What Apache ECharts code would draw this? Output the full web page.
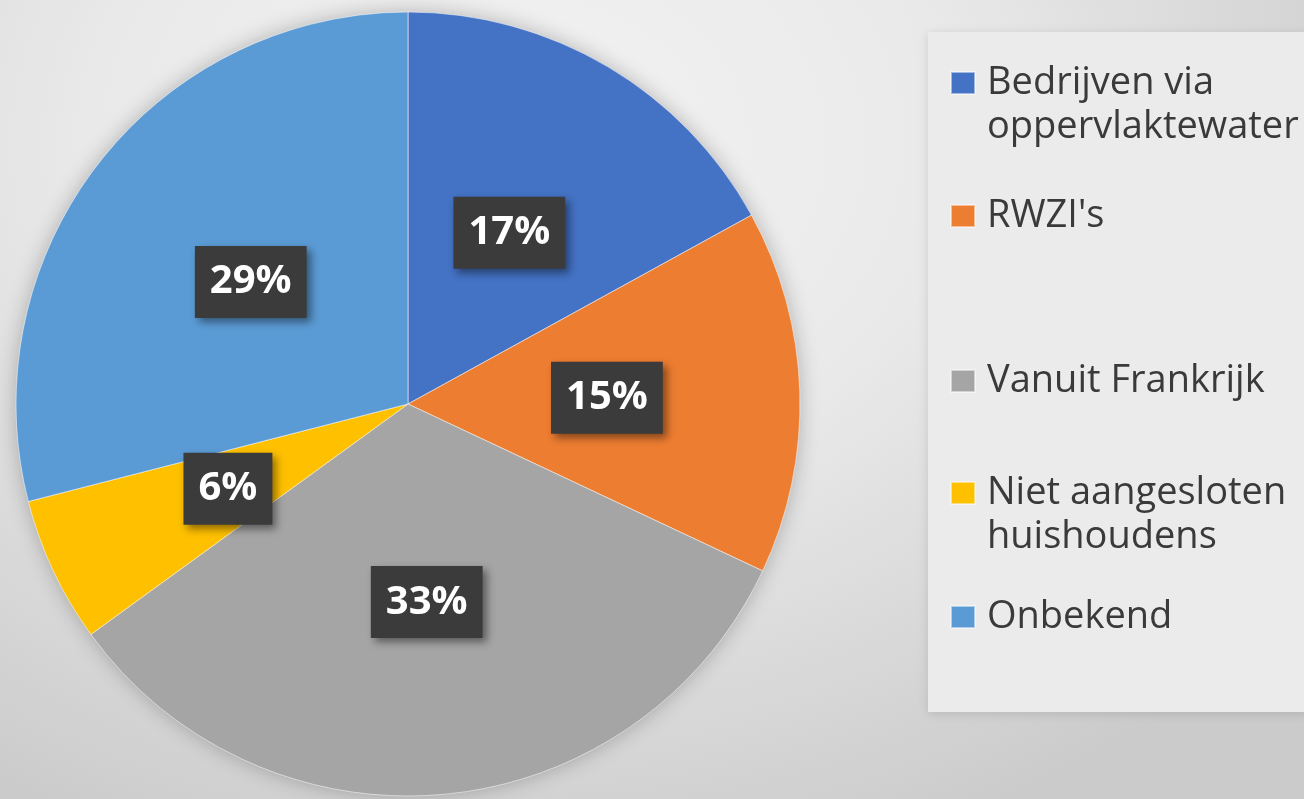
<!DOCTYPE html>
<html>
<head>
<meta charset="utf-8">
<script src="https://cdn.jsdelivr.net/npm/echarts@6/dist/echarts.min.js"></script>
<style>
    html, body { margin: 0; padding: 0; }
    #main {
        width: 1304px;
        height: 799px;
        background: radial-gradient(ellipse 75% 95% at 40% 18%, #f3f3f3 0%, #e9e9e9 45%, #d6d6d6 80%, #cbcbcb 100%);
    }
</style>
</head>
<body>
<div id="main"></div>
<script>
// data
var names = ['Bedrijven via oppervlaktewater', "RWZI's", 'Vanuit Frankrijk', 'Niet aangesloten huishoudens', 'Onbekend'];
var values = [17, 15, 33, 6, 29];
var colors = ['#4472C4', '#ED7D31', '#A5A5A5', '#FFC000', '#5B9BD5'];
// legend text as shown (line breaks)
var legendText = ['Bedrijven via\noppervlaktewater', "RWZI's", 'Vanuit Frankrijk', 'Niet aangesloten\nhuishoudens', 'Onbekend'];
var legendTop = [17, 194, 359, 427, 595];

var myChart = echarts.init(document.getElementById('main'));

var pieData = names.map(function (n, i) {
    return {value: values[i], name: n};
});

// 每个图例单独放置
var legends = names.map(function (n, i) {
    var twoLines = legendText[i].indexOf('\n') >= 0;
    return {
        data: [n],
        orient: 'vertical',
        left: 950,
        top: legendTop[i],
        padding: 0,
        itemWidth: 24,
        itemHeight: 22,
        icon: 'rect',
        selectedMode: false,
        // 两行的图例: 空行放在上面, 让第一行和色块对齐
        formatter: function () { return twoLines ? '\n' + legendText[i] : legendText[i]; },
        textStyle: {
            fontFamily: 'Open Sans',
            fontSize: 38,
            lineHeight: 44,
            color: '#3a3a3a',
            padding: [0, 0, 0, 7]
        }
    };
});

var option = {
    color: colors,
    animation: false,
    legend: legends,
    graphic: [
        {
            type: 'rect',
            z: -10,
            shape: {x: 928, y: 32, width: 380, height: 680},
            style: {
                fill: '#ebebeb',
                shadowBlur: 10,
                shadowColor: 'rgba(0,0,0,0.12)',
                shadowOffsetY: 2
            }
        },
        {
            type: 'circle',
            z: -5,
            shape: {cx: 408, cy: 404, r: 390},
            style: {
                fill: '#bbbbbb',
                shadowBlur: 22,
                shadowColor: 'rgba(0,0,0,0.3)'
            }
        }
    ],
    series: [
        {
            type: 'pie',
            center: [408, 404],
            radius: 392,
            startAngle: 90,
            clockwise: true,
            avoidLabelOverlap: false,
            itemStyle: {
                borderColor: 'rgba(255,255,255,0.5)',
                borderWidth: 1
            },
            emphasis: {disabled: true},
            label: {
                show: true,
                position: 'inside',
                formatter: '{d}%',
                fontFamily: 'Open Sans',
                fontWeight: 'bold',
                fontSize: 40,
                lineHeight: 46,
                color: '#ffffff',
                backgroundColor: '#3b3b3b',
                padding: [13, 15],
                shadowColor: 'rgba(0,0,0,0.45)',
                shadowBlur: 8,
                shadowOffsetX: 4,
                shadowOffsetY: 4
            },
            labelLine: {show: false},
            data: pieData
        }
    ]
};

myChart.setOption(option);
</script>
</body>
</html>
